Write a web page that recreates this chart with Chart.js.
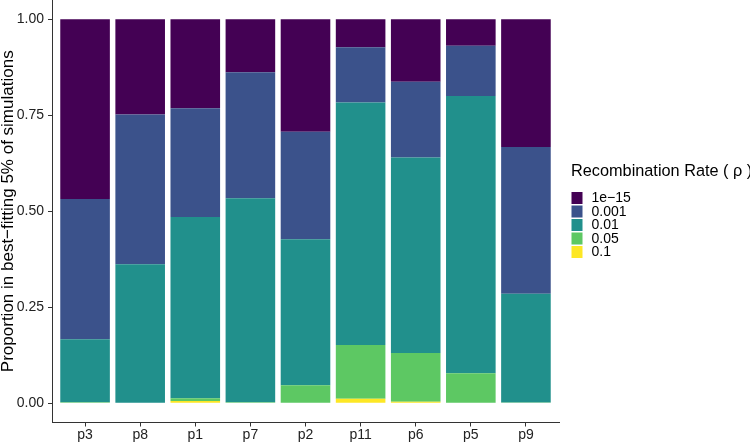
<!DOCTYPE html>
<html>
<head>
<meta charset="utf-8">
<script src="https://cdn.jsdelivr.net/npm/chart.js@4.4.1/dist/chart.umd.min.js"></script>
<style>
  body { margin: 0; background: #fff; }
  canvas { display: block; }
</style>
</head>
<body>
<canvas id="rhoChart" width="750" height="442"></canvas>
<script>
// Populations along the x axis
const categories = ['p3', 'p8', 'p1', 'p7', 'p2', 'p11', 'p6', 'p5', 'p9'];

// Proportion of best-fitting simulations for each recombination rate
const rate1e15 = [0.468, 0.248, 0.232, 0.138, 0.293, 0.073, 0.163, 0.069, 0.333];
const rate0001 = [0.365, 0.390, 0.283, 0.328, 0.280, 0.144, 0.197, 0.131, 0.382];
const rate001  = [0.164, 0.362, 0.472, 0.531, 0.380, 0.631, 0.509, 0.722, 0.283];
const rate005  = [0.003, 0.000, 0.007, 0.003, 0.047, 0.140, 0.127, 0.078, 0.002];
const rate01   = [0.000, 0.000, 0.006, 0.000, 0.000, 0.012, 0.004, 0.000, 0.000];

const yTicks = [0, 0.25, 0.5, 0.75, 1];
const legendTitle = 'Recombination Rate ( \u03c1 )';
const yTitle = 'Proportion in best\u2212fitting 5% of simulations';

const FONT = '"Liberation Sans", Arial, sans-serif';
const TEXT = '#222222';

// bottom of the stack first, like ggplot's fill order
const series = [
  { label: '0.1',    values: rate01,   color: '#FDE725' },
  { label: '0.05',   values: rate005,  color: '#5DC863' },
  { label: '0.01',   values: rate001,  color: '#21908C' },
  { label: '0.001',  values: rate0001, color: '#3B528B' },
  { label: '1e\u221215', values: rate1e15, color: '#440154' }
];

// draws the rotated y title and the legend on the right
const extrasPlugin = {
  id: 'extras',
  afterDraw(chart) {
    const ctx = chart.ctx;
    const area = chart.chartArea;
    ctx.save();

    // y axis title, centred on the panel
    ctx.fillStyle = '#000';
    ctx.font = '17px ' + FONT;
    ctx.textAlign = 'center';
    ctx.textBaseline = 'alphabetic';
    ctx.translate(12.5, (area.top + area.bottom) / 2);
    ctx.rotate(-Math.PI / 2);
    ctx.fillText(yTitle, 0, 0);
    ctx.setTransform(1, 0, 0, 1, 0, 0);

    // legend
    ctx.textAlign = 'left';
    ctx.textBaseline = 'middle';
    ctx.font = '16.3px ' + FONT;
    ctx.fillText(legendTitle, 571, 172);

    ctx.font = '14px ' + FONT;
    const items = chart.data.datasets.slice().reverse();
    items.forEach((ds, i) => {
      const y = 192 + i * 13.5;
      ctx.fillStyle = ds.backgroundColor;
      ctx.fillRect(571.5, y, 11, 12);
      ctx.fillStyle = '#000';
      ctx.fillText(ds.label, 591.5, y + 6.5);
    });
    ctx.restore();
  }
};

function renderRhoChart() {
  const ctx = document.getElementById('rhoChart').getContext('2d');

  new Chart(ctx, {
    type: 'bar',
    data: {
      datasets: series.map(s => ({
        label: s.label,
        data: s.values.map((v, i) => ({ x: i, y: v })),
        backgroundColor: s.color,
        borderWidth: 0,
        barPercentage: 0.9,
        categoryPercentage: 1.0
      }))
    },
    options: {
      responsive: false,
      animation: false,
      devicePixelRatio: 1,
      layout: { padding: { top: 0, right: 191, bottom: 0, left: 0 } },
      plugins: {
        legend: { display: false },
        tooltip: { enabled: false }
      },
      scales: {
        x: {
          type: 'linear',
          stacked: true,
          offset: false,
          min: -0.6,
          max: 8.6,
          afterBuildTicks: scale => {
            scale.ticks = categories.map((c, i) => ({ value: i }));
          },
          afterFit: scale => {
            scale.height = 19.5;
            scale.paddingLeft = 0;
            scale.paddingRight = 0;
          },
          grid: { display: true, offset: false, drawOnChartArea: false, drawTicks: true, tickLength: 4, color: '#333333' },
          border: { display: true, color: '#333333', width: 1 },
          ticks: {
            autoSkip: false,
            maxRotation: 0,
            padding: 0,
            color: TEXT,
            font: { family: FONT, size: 14 },
            callback: v => categories[v]
          }
        },
        y: {
          stacked: true,
          min: -0.05,
          max: 1.05,
          afterBuildTicks: scale => {
            scale.ticks = yTicks.map(v => ({ value: v }));
          },
          afterFit: scale => {
            scale.width = 52;
            scale.paddingTop = 0;
            scale.paddingBottom = 0;
          },
          grid: { display: true, drawOnChartArea: false, drawTicks: true, tickLength: 4, color: '#333333' },
          border: { display: true, color: '#333333', width: 1 },
          ticks: {
            padding: 4,
            color: TEXT,
            font: { family: FONT, size: 14 },
            callback: v => v.toFixed(2)
          }
        }
      }
    },
    plugins: [extrasPlugin]
  });
}

document.addEventListener('DOMContentLoaded', renderRhoChart);
</script>
</body>
</html>
